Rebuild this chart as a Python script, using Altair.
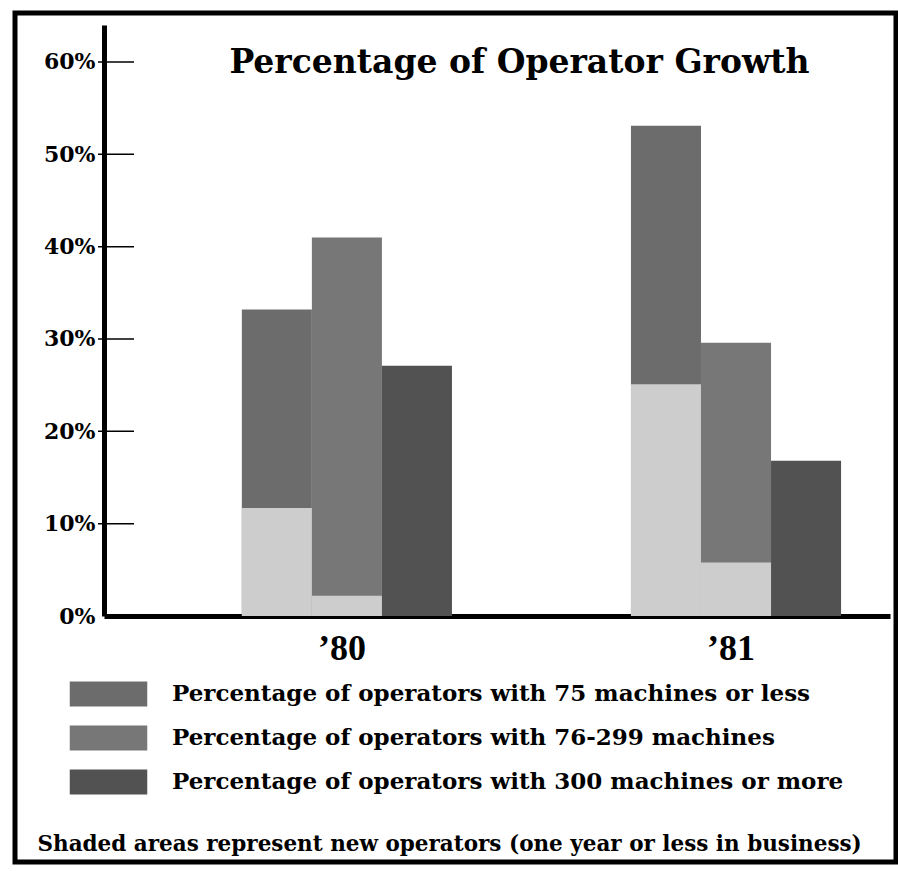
import altair as alt
import pandas as pd

years = ["\u201980", "\u201981"]
groups = [
    "Percentage of operators with 75 machines or less",
    "Percentage of operators with 76-299 machines",
    "Percentage of operators with 300 machines or more",
]
total_80 = [33.2, 41.0, 27.1]
total_81 = [53.1, 29.6, 16.8]
new_80 = [11.7, 2.2, 0.0]
new_81 = [25.1, 5.8, 0.0]
tick_values = [10, 20, 30, 40, 50, 60]
axis_values = [0, 10, 20, 30, 40, 50, 60]
bar_colors = ["#6c6c6c", "#777777", "#525252"]
shade_color = "#cdcdcd"

title_text = "Percentage of Operator Growth"
footer_text = "Shaded areas represent new operators (one year or less in business)"

rows = []
for yr, tots, news in [(years[0], total_80, new_80), (years[1], total_81, new_81)]:
    for g, t, n in zip(groups, tots, news):
        rows.append({"year": yr, "group": g, "total": t, "new": n})
df = pd.DataFrame(rows)

SERIF = "DejaVu Serif"

x_scale = alt.Scale(paddingInner=0.46, paddingOuter=0.24, align=0.738)
y_scale = alt.Scale(domain=[0, 64], nice=False)

x_enc = alt.X(
    "year:N",
    sort=years,
    scale=x_scale,
    axis=alt.Axis(
        title=footer_text,
        labelFont="Liberation Serif",
        labelFontSize=36,
        labelFontWeight="bold",
        labelColor="black",
        labelAngle=0,
        labelPadding=15,
        labelOffset=-5,
        ticks=False,
        domainWidth=5,
        domainColor="black",
        grid=False,
        titleFont=SERIF,
        titleFontSize=21.5,
        titleFontWeight="bold",
        titleColor="black",
        titleX=-67,
        titleY=234,
        titleAlign="left",
        titleAnchor="start",
        titleBaseline="alphabetic",
    ),
)
xoff_enc = alt.XOffset("group:N", sort=groups, scale=alt.Scale(paddingInner=0, paddingOuter=0))

# The chart heading is carried by the y axis title, placed inside the plot area.
y_axis = alt.Axis(
    values=axis_values,
    labelExpr="datum.value + '%'",
    ticks=False,
    domainWidth=5,
    domainColor="black",
    labelFont=SERIF,
    labelFontWeight="bold",
    labelFontSize=22,
    labelColor="black",
    labelPadding=9,
    grid=False,
    title=title_text,
    titleAngle=0,
    titleX=415,
    titleY=47,
    titleAlign="center",
    titleBaseline="alphabetic",
    titleFont=SERIF,
    titleFontSize=33,
    titleFontWeight="bold",
    titleColor="black",
)

frame = alt.Chart(pd.DataFrame({"f": [0]})).mark_rect(
    fill="transparent", stroke="black", strokeWidth=5
).encode(
    x=alt.value(-89), x2=alt.value(792), y=alt.value(-12), y2=alt.value(837)
)

bars = alt.Chart(df).mark_bar().encode(
    x=x_enc,
    xOffset=xoff_enc,
    y=alt.Y("total:Q", stack=None, scale=y_scale, axis=y_axis),
    color=alt.Color(
        "group:N",
        sort=groups,
        scale=alt.Scale(domain=groups, range=bar_colors),
        legend=alt.Legend(
            title=None,
            orient="none",
            legendX=-11,
            legendY=653.5,
            direction="vertical",
            symbolType="M-2.5,-0.8H2.5V0.8H-2.5Z",
            symbolSize=961,
            symbolStrokeWidth=0,
            symbolOpacity=1,
            labelFont=SERIF,
            labelFontSize=23,
            labelFontWeight="bold",
            labelColor="black",
            labelLimit=900,
            labelOffset=48,
            rowPadding=16,
            padding=0,
        ),
    ),
)

shade = alt.Chart(df).transform_filter("datum.new > 0").mark_bar(color=shade_color).encode(
    x=alt.X("year:N", sort=years),
    xOffset=alt.XOffset("group:N", sort=groups),
    y=alt.Y("new:Q", stack=None),
)

ticks = alt.Chart(pd.DataFrame({"t": tick_values})).mark_rule(
    color="black", strokeWidth=1.5
).encode(
    y=alt.Y("t:Q"),
    x=alt.value(-6),
    x2=alt.value(30),
)

chart = alt.layer(frame, bars, shade, ticks).properties(
    width=786,
    height=591,
    autosize=alt.AutoSizeParams(type="none"),
    padding={"left": 104, "top": 25, "right": 8, "bottom": 255},
    background="white",
).configure_view(stroke=None)

chart.save("out.html", embed_options={"renderer": "svg", "actions": False})
